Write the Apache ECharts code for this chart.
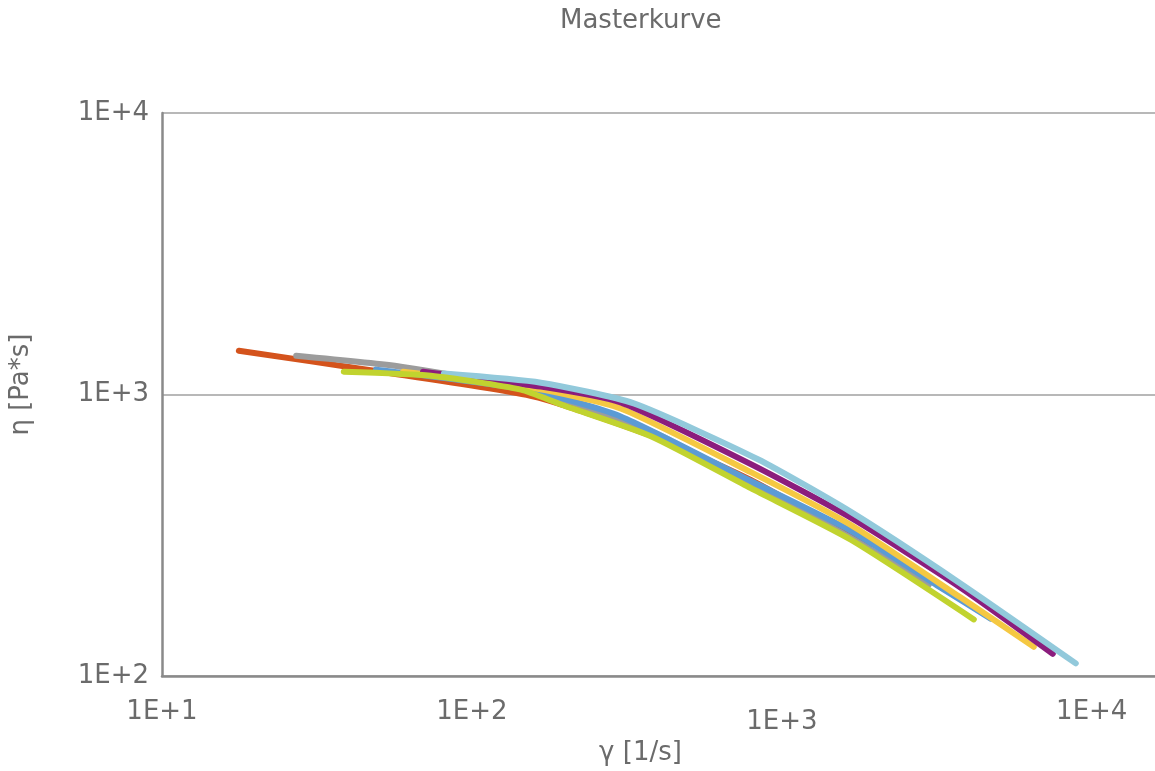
<!DOCTYPE html>
<html>
<head>
<meta charset="utf-8">
<script src="https://cdn.jsdelivr.net/npm/echarts@6/dist/echarts.min.js"></script>
<style>
  html, body { margin: 0; padding: 0; background: #ffffff; }
  #chart { width: 1155px; height: 771px; }
</style>
</head>
<body>
<div id="chart"></div>
<script>
// Flow curves: shear rate γ [1/s] vs. viscosity η [Pa*s], shifted to one master curve
const seriesNames = ['T1', 'T2', 'T3', 'T4', 'T5', 'T6', 'T7'];
const seriesColors = ['#D4531C', '#9C9C9C', '#5B9BD5', '#F5C842', '#8B1D7D', '#92C9DB', '#C1D32F'];

const curveOrange = [[17.7, 1431], [48.3, 1215], [158.5, 984], [378, 715], [794, 497], [1908, 288]];
const curveGray   = [[27.1, 1373], [59.0, 1256], [158.5, 1033], [378, 740], [794, 485], [1670, 310], [2980, 211]];
const curveBlue   = [[49.0, 1226], [155, 1033], [302, 836], [794, 493], [1670, 328], [3257, 206], [4722, 160]];
const curveYellow = [[59.9, 1206], [161, 1050], [302, 892], [794, 530], [1670, 344], [3779, 190], [6500, 127]];
const curvePurple = [[69.5, 1206], [167, 1067], [302, 937], [794, 566], [1670, 365], [3779, 206], [7486, 120]];
const curveCyan   = [[81.2, 1187], [167, 1102], [333, 930], [837, 589], [1670, 383], [3779, 213], [8882, 111]];
const curveLime   = [[38.6, 1206], [73.7, 1167], [143.9, 1041], [193.7, 922], [378, 711], [794, 465], [1670, 305], [4163, 159]];

const curves = [curveOrange, curveGray, curveBlue, curveYellow, curvePurple, curveCyan, curveLime];

const xMin = 10, xMax = 16000;
const yMin = 100, yMax = 10000;

const textColor = '#6B6B6B';
const fontFamily = "'DejaVu Sans', Verdana, sans-serif";

function expLabel(v) {
  return '1E+' + Math.round(Math.log10(v));
}

const chart = echarts.init(document.getElementById('chart'), null, { renderer: 'canvas' });

chart.setOption({
  animation: false,
  backgroundColor: '#ffffff',
  title: {
    text: 'Masterkurve',
    left: 555,
    top: 3,
    textStyle: { color: textColor, fontFamily: fontFamily, fontSize: 26, fontWeight: 'normal' }
  },
  grid: { left: 161, right: 0, top: 113, bottom: 92, containLabel: false },
  xAxis: {
    type: 'log',
    logBase: 10,
    min: xMin,
    max: xMax,
    name: 'γ [1/s]',
    nameLocation: 'middle',
    nameGap: 58,
    nameTextStyle: { color: textColor, fontFamily: fontFamily, fontSize: 26, padding: [0, 36, 0, 0] },
    axisLine: { show: true, lineStyle: { color: '#8A8A8A', width: 2.5 } },
    axisTick: { show: false },
    splitLine: { show: false },
    axisLabel: {
      color: textColor,
      fontFamily: fontFamily,
      fontSize: 26,
      margin: 23,
      showMaxLabel: false,
      formatter: function (v) {
        const e = Math.round(Math.log10(v));
        return e === 3 ? '{lo|' + expLabel(v) + '}' : '{n|' + expLabel(v) + '}';
      },
      rich: {
        n: { color: textColor, fontFamily: fontFamily, fontSize: 26 },
        lo: { color: textColor, fontFamily: fontFamily, fontSize: 26, padding: [10, 0, 0, 0] }
      }
    }
  },
  yAxis: {
    type: 'log',
    logBase: 10,
    min: yMin,
    max: yMax,
    name: 'η [Pa*s]',
    nameLocation: 'middle',
    nameGap: 128,
    nameTextStyle: { color: textColor, fontFamily: fontFamily, fontSize: 26, padding: [0, 0, 0, 20] },
    axisLine: { show: true, lineStyle: { color: '#8A8A8A', width: 2.5 } },
    axisTick: { show: false },
    splitLine: { show: true, lineStyle: { color: '#B8B8B8', width: 2 } },
    axisLabel: {
      color: textColor,
      fontFamily: fontFamily,
      fontSize: 26,
      margin: 13,
      padding: [0, 0, 18, 0],
      formatter: expLabel
    }
  },
  series: curves.map(function (data, i) {
    return {
      name: seriesNames[i],
      type: 'line',
      data: data,
      showSymbol: false,
      symbol: 'none',
      smooth: 0.2,
      lineStyle: { color: seriesColors[i], width: 6, cap: 'round', join: 'round' },
      z: 2 + i
    };
  })
});
</script>
</body>
</html>
